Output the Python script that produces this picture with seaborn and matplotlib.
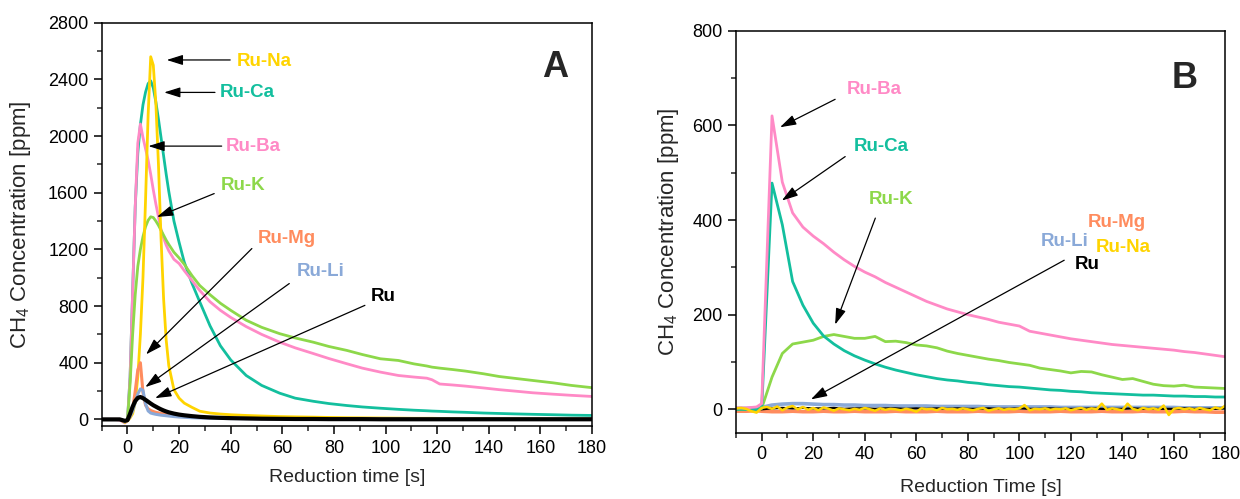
import numpy as np
import pandas as pd
import matplotlib
matplotlib.use("Agg")
import matplotlib.pyplot as plt
from matplotlib.ticker import MultipleLocator
import seaborn as sns

# ---------------- Panel A: reduction profiles ----------------
time_a = [-10, -5, -3, -1, 0, 1, 2, 3, 4, 5, 6, 7, 8, 9, 10, 11, 12, 13, 14, 15, 16,
          18, 20, 22, 25, 28, 32, 36, 40, 46, 52, 59, 65, 72, 78, 85, 91, 98, 105,
          111, 116, 118, 121, 126, 131, 138, 144, 150, 157, 165, 172, 180]

na_a = [0, 0, 0, -20, -10,
        10, 40, 120, 300, 600, 1000, 1550, 2150, 2560, 2500, 2230, 1800, 1280, 850, 560, 380,
        210, 150, 115, 85, 58, 45, 38, 33,
        28, 24, 20, 18, 16, 14, 12, 11, 10, 9,
        8, 8, 8, 7, 7, 6, 6, 5, 5, 5, 4, 4, 4]
ca_a = [0, 0, 0, -20, -5,
        300, 900, 1500, 1880, 2080, 2220, 2310, 2370, 2390, 2340, 2240, 2120, 1990, 1860, 1730, 1610,
        1400, 1250, 1110, 960, 830, 660, 520, 420,
        310, 240, 185, 150, 128, 112, 98, 88, 79, 71,
        65, 61, 59, 57, 53, 50, 45, 42, 39, 36, 33, 30, 28]
ba_a = [0, 0, -5, -25, -10,
        300, 900, 1500, 1950, 2085, 1990, 1910, 1830, 1730, 1620, 1520, 1430, 1340, 1280, 1230, 1190,
        1130, 1100, 1050, 980, 910, 830, 770, 720,
        655, 600, 545, 505, 465, 430, 393, 362, 334, 310,
        299, 291, 280, 250, 243, 235, 222, 210, 200, 188, 178, 170, 162]
k_a = [0, 0, 0, -20, -5,
       250, 600, 880, 1080, 1200, 1290, 1360, 1405, 1430, 1425, 1400, 1370, 1335, 1300, 1265, 1235,
       1180, 1140, 1095, 1015, 945, 880, 820, 770,
       700, 650, 605, 575, 545, 515, 487, 458, 428, 416,
       392, 377, 369, 362, 352, 341, 322, 303, 290, 275, 258, 240, 224]
mg_a = [0, 0, 0, -15, -5,
        20, 70, 200, 350, 400, 190, 100, 75, 63, 56, 50, 46, 42, 39, 36, 33,
        28, 24, 21, 17, 14, 11, 9, 7,
        6, 5, 4, 3, 3, 2, 2, 2, 1, 1,
        1, 1, 1, 1, 1, 1, 0, 0, 0, 0, 0, 0, 0]
li_a = [0, 0, 0, -15, -5,
        20, 60, 120, 180, 215, 205, 110, 60, 45, 40, 36, 33, 30, 28, 26, 24,
        20, 17, 15, 12, 10, 8, 7, 6,
        5, 4, 4, 3, 3, 3, 3, 2, 2, 2,
        2, 2, 2, 2, 2, 2, 2, 2, 2, 2, 2, 2, 2]
ru_a = [0, 0, 0, -10, -5,
        40, 90, 130, 152, 158, 150, 138, 125, 112, 100, 90, 80, 71, 63, 56, 50,
        41, 34, 29, 23, 18, 14, 11, 9,
        7, 5, 4, 3, 3, 2, 2, 2, 1, 1,
        1, 1, 1, 1, 1, 1, 1, 1, 1, 1, 1, 1, 1]

# ---------------- Panel B: reduction profiles ----------------
time_b = [-10, -6, -2] + list(range(0, 181, 4))
time_b_na = list(range(-10, 181, 2))

ba_b = [3, 3, 5,
        12, 620, 480, 415, 385, 366, 350, 332, 316, 302, 290, 280, 268, 258, 248, 238,
        228, 220, 212, 206, 200, 195, 190, 184, 180, 176, 165, 161, 157, 153, 149, 146,
        143, 140, 137, 135, 133, 131, 129, 127, 125, 122, 120, 117, 114, 111]
ca_b = [0, 0, 0,
        2, 478, 390, 270, 220, 182, 155, 138, 124, 113, 104, 96, 89, 83, 78, 73,
        69, 65, 62, 60, 57, 55, 52, 50, 48, 47, 45, 43, 41, 40, 38, 37,
        35, 34, 33, 32, 31, 30, 30, 29, 28, 28, 27, 27, 26, 26]
k_b = [0, 0, 0,
       2, 68, 118, 138, 142, 146, 154, 158, 154, 150, 150, 154, 143, 144, 141, 136,
       134, 130, 123, 118, 114, 110, 106, 103, 99, 96, 93, 87, 84, 81, 77, 80,
       79, 73, 68, 63, 65, 59, 53, 50, 49, 51, 47, 46, 45, 44]
li_b = [2, 2, 3,
        4, 9, 11, 12, 12, 11, 10, 10, 9, 9, 8, 8, 8, 7, 7, 7,
        7, 6, 6, 6, 6, 6, 5, 5, 5, 5, 5, 5, 5, 4, 4, 4,
        4, 4, 4, 4, 4, 4, 4, 4, 4, 3, 3, 3, 3, 3]
ru_b = [0, 0, 0,
        0, 2, 3, 2, 3, 2, 2, 3, 1, 2, 2, 1, 2, 2, 1, 2,
        1, 2, 1, 2, 1, 1, 2, 1, 1, 2, 1, 1, 2, 1, 1, 1,
        2, 1, 1, 1, 2, 1, 1, 1, 1, 2, 1, 1, 1, 2]
mg_b = [-4, -4, -3,
        -4, -5, -5, -4, -5, -5, -4, -5, -5, -4, -5, -5, -5, -4, -5, -5,
        -5, -4, -5, -5, -5, -4, -5, -5, -5, -4, -5, -5, -5, -4, -5, -5,
        -5, -4, -5, -5, -5, -4, -5, -5, -5, -4, -5, -5, -6, -6]
na_b = [2, 3, 1, -4, -7, 3, 5, 1, 6, -2, 4, 7, 0, 5, -1, 3, -2, 4, 1, -3,
        2, 0, -2, 1, -1, 3, 0, -3, 2, -1, 1, 0, -2, 1, -1, -5, 2, 0, 1, -2,
        3, 0, 1, -1, 2, 0, -2, 1, 3, -3, 0, 2, -1, 1, 0, 2, 9, -2, 1, 0,
        2, -1, 1, 0, 2, -2, 1, 3, -1, 2, 0, 12, -1, 2, 0, -2, 12, 1, -2, 3,
        0, 2, -1, 8, -12, 1, 3, 0, 2, -1, 3, 0, -2, 4, 1, 8]

COLORS = {
    "Ru-Na": "#FFD400",
    "Ru-Ca": "#13BF9E",
    "Ru-Ba": "#FF8AC6",
    "Ru-K": "#8DD84A",
    "Ru-Mg": "#FF8C5E",
    "Ru-Li": "#8AA9D8",
    "Ru": "#000000",
}

sns.set_theme(style="ticks")
plt.rcParams["font.family"] = ["Liberation Sans", "DejaVu Sans"]
plt.rcParams["mathtext.default"] = "regular"

fig = plt.figure(figsize=(12.4, 4.99), dpi=100)
ax_a = fig.add_axes([0.0820, 0.1453, 0.3954, 0.8092])
ax_b = fig.add_axes([0.5935, 0.1323, 0.3948, 0.8062])


def draw(ax, t, y, name, lw=2.0):
    sns.lineplot(x=t, y=y, ax=ax, color=COLORS[name], lw=lw,
                 estimator=None, sort=False, legend=False)


# Panel A curves (stacking order: back to front)
draw(ax_a, time_a, ca_a, "Ru-Ca")
draw(ax_a, time_a, ba_a, "Ru-Ba")
draw(ax_a, time_a, k_a, "Ru-K")
draw(ax_a, time_a, na_a, "Ru-Na")
draw(ax_a, time_a, mg_a, "Ru-Mg", lw=2.2)
draw(ax_a, time_a, li_a, "Ru-Li", lw=2.2)
draw(ax_a, time_a, ru_a, "Ru", lw=3.0)

# Panel B curves
draw(ax_b, time_b, mg_b, "Ru-Mg", lw=2.6)
draw(ax_b, time_b, li_b, "Ru-Li", lw=2.6)
draw(ax_b, time_b, ru_b, "Ru", lw=1.6)
draw(ax_b, time_b, k_b, "Ru-K")
draw(ax_b, time_b, ca_b, "Ru-Ca")
draw(ax_b, time_b, ba_b, "Ru-Ba")
draw(ax_b, time_b_na, na_b, "Ru-Na", lw=1.8)

for ax in (ax_a, ax_b):
    ax.set_xlim(-10, 180)
    ax.xaxis.set_major_locator(MultipleLocator(20))
    ax.xaxis.set_minor_locator(MultipleLocator(10))
    for side in ("top", "right", "left", "bottom"):
        ax.spines[side].set_visible(True)
        ax.spines[side].set_color("black")
        ax.spines[side].set_linewidth(1.1)
    ax.tick_params(which="major", direction="out", length=6, width=1.1,
                   labelsize=13, colors="black", top=False, right=False)
    ax.tick_params(which="minor", direction="out", length=3.5, width=1.1,
                   top=False, right=False)
    ax.set_facecolor("white")
    ax.grid(False)

ax_a.set_ylim(-50, 2800)
ax_a.yaxis.set_major_locator(MultipleLocator(400))
ax_a.yaxis.set_minor_locator(MultipleLocator(200))
ax_b.set_ylim(-50, 800)
ax_b.yaxis.set_major_locator(MultipleLocator(200))
ax_b.yaxis.set_minor_locator(MultipleLocator(100))

ax_a.set_xlabel("Reduction time [s]", fontsize=14)
ax_a.set_ylabel("CH$_4$ Concentration [ppm]", fontsize=16)
ax_b.set_xlabel("Reduction Time [s]", fontsize=14)
ax_b.set_ylabel("CH$_4$ Concentration [ppm]", fontsize=16)
ax_a.xaxis.set_label_coords(0.5, -0.105)
ax_a.yaxis.set_label_coords(-0.140, 0.5)
ax_b.xaxis.set_label_coords(0.5, -0.114)
ax_b.yaxis.set_label_coords(-0.112, 0.5)

ax_a.text(0.9245, 0.888, "A", transform=ax_a.transAxes, fontsize=26,
          fontweight="bold", ha="center", va="center")
ax_b.text(0.917, 0.882, "B", transform=ax_b.transAxes, fontsize=26,
          fontweight="bold", ha="center", va="center")

ARROW = dict(arrowstyle="-|>,head_length=0.7,head_width=0.22", color="black",
             lw=0.9, shrinkA=0, shrinkB=0, mutation_scale=14)


def label(ax, name, xy_text, tail, head):
    ax.text(xy_text[0], xy_text[1], name, color=COLORS[name], fontsize=13.5,
            fontweight="bold", ha="center", va="center")
    if tail is not None:
        ax.annotate("", xy=head, xytext=tail, arrowprops=ARROW)


# Panel A labels and arrows
label(ax_a, "Ru-Na", (52.9, 2524), (39.8, 2537), (15.2, 2537))
label(ax_a, "Ru-Ca", (46.4, 2308), (33.9, 2308), (14.2, 2308))
label(ax_a, "Ru-Ba", (48.6, 1929), (36.5, 1929), (8.1, 1929))
label(ax_a, "Ru-K", (44.8, 1653), (33.6, 1594), (11.4, 1429))
label(ax_a, "Ru-Mg", (61.7, 1277), (48.2, 1206), (7.2, 459))
label(ax_a, "Ru-Li", (74.9, 1041), (62.7, 959), (6.9, 228))
label(ax_a, "Ru", (99.1, 869), (92.0, 805), (10.7, 150))

# Panel B labels and arrows
label(ax_b, "Ru-Ba", (43.6, 675), (28.5, 655), (7.1, 596))
label(ax_b, "Ru-Ca", (46.5, 555), (32.4, 534), (7.8, 441))
label(ax_b, "Ru-K", (50.1, 444), (44.1, 404), (28.5, 179))
label(ax_b, "Ru-Mg", (137.7, 394), None, None)
label(ax_b, "Ru-Li", (117.4, 355), None, None)
label(ax_b, "Ru-Na", (140.5, 341), None, None)
label(ax_b, "Ru", (126.5, 306), (117.4, 315), (19.1, 21))

fig.savefig("out.png", dpi=100, facecolor="white")
